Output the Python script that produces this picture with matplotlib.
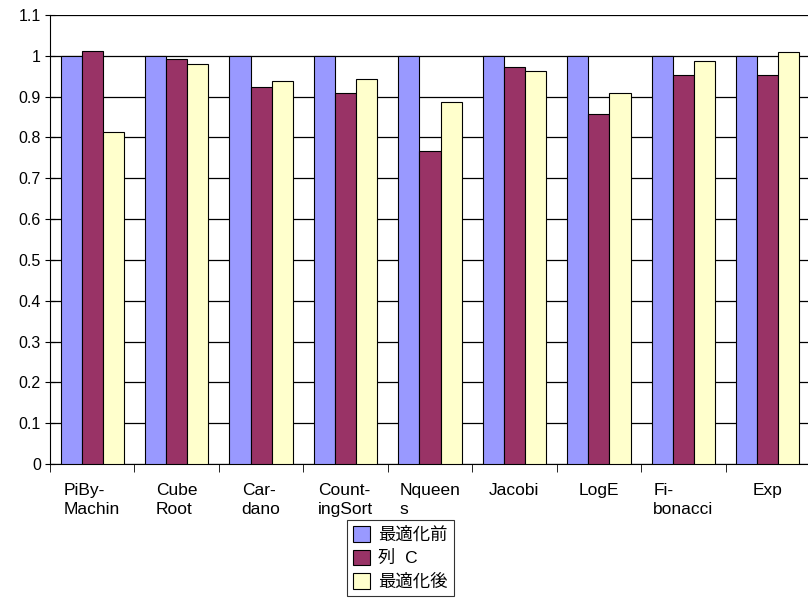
import numpy as np
import matplotlib
matplotlib.use("Agg")
import matplotlib.pyplot as plt
from matplotlib.ticker import FixedLocator, NullFormatter

plt.rcParams['font.family'] = ['Liberation Sans', 'Noto Sans CJK JP', 'DejaVu Sans']

categories = ["PiBy-\nMachin", "Cube\nRoot", "Car-\ndano", "Count-\ningSort", "Nqueen\ns",
              "Jacobi", "LogE", "Fi-\nbonacci", "Exp"]
before = [1, 1, 1, 1, 1, 1, 1, 1, 1]
col_c = [1.013, 0.992, 0.923, 0.909, 0.768, 0.973, 0.858, 0.952, 0.952]
after = [0.813, 0.981, 0.939, 0.944, 0.887, 0.964, 0.910, 0.987, 1.010]
series_names = ["最適化前", "列  C", "最適化後"]
colors = ["#9999FF", "#993366", "#FFFFCC"]

fig = plt.figure(figsize=(8.08, 5.99), dpi=100)
ax = fig.add_axes([50 / 808, 135 / 599, 760 / 808, 449 / 599])

x = np.arange(len(categories))
w = 0.25
for i, (vals, name, c) in enumerate(zip([before, col_c, after], series_names, colors)):
    ax.bar(x + (i - 1) * w, vals, w, color=c, edgecolor="black", linewidth=0.8,
           label=name, zorder=3)

ax.set_xlim(-0.5, len(categories) - 0.5)
ax.set_ylim(0, 1.1)
ax.set_yticks(np.arange(0, 1.11, 0.1))
ax.set_yticklabels(["0", "0.1", "0.2", "0.3", "0.4", "0.5", "0.6", "0.7", "0.8", "0.9", "1", "1.1"],
                   fontsize=11.5)
ax.yaxis.grid(True, color="black", linewidth=0.9, zorder=0)

# category labels between boundary ticks
ax.set_xticks(x)
ax.set_xticklabels(categories, fontsize=12.5, va="top", ha="center", linespacing=1.35)
ax.tick_params(axis="x", length=0, pad=13.5)
ax.xaxis.set_minor_locator(FixedLocator(np.arange(-0.5, len(categories), 1)))
ax.xaxis.set_minor_formatter(NullFormatter())
ax.tick_params(axis="x", which="minor", length=6, direction="out", color="black")
ax.tick_params(axis="y", length=7, direction="inout", pad=3)
for lab in ax.get_xticklabels():
    lab.set_multialignment("left")

ax.spines["top"].set_visible(False)
ax.spines["right"].set_visible(False)
ax.spines["left"].set_color("black")
ax.spines["bottom"].set_color("black")

leg = fig.legend(loc="upper left", bbox_to_anchor=(347 / 808, 1 - 520 / 599),
                 fontsize=12.5, frameon=True, fancybox=False, edgecolor="black",
                 handlelength=1.0, handleheight=1.0, handletextpad=0.45,
                 borderpad=0.35, labelspacing=0.4, borderaxespad=0)
leg.get_frame().set_linewidth(0.8)

fig.savefig("out.png", dpi=100)
